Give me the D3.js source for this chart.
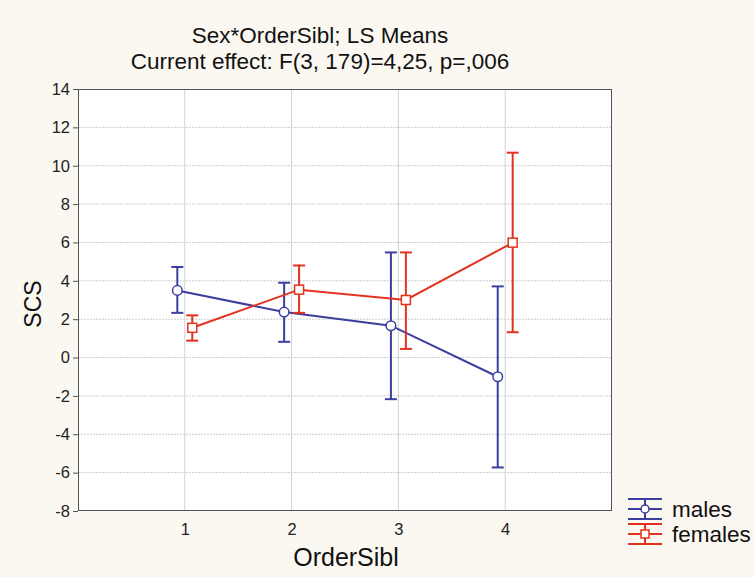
<!DOCTYPE html>
<html><head><meta charset="utf-8">
<script src="https://cdn.jsdelivr.net/npm/d3@7"></script>
<style>
html,body{margin:0;padding:0;background:#fbf8f1;}
svg{display:block;font-family:"Liberation Sans",Arial,sans-serif;}
.tick text{font-size:16.5px;font-family:"Liberation Sans",Arial,sans-serif;fill:#222;}
</style></head>
<body>
<svg id="chart" width="755" height="577"></svg>
<script>
const categories = [1, 2, 3, 4];
const yTicks = [-8, -6, -4, -2, 0, 2, 4, 6, 8, 10, 12, 14];
const seriesNames = ["males", "females"];
const malesMean = [3.5, 2.37, 1.66, -1.0];
const malesLow  = [2.33, 0.82, -2.17, -5.73];
const malesHigh = [4.72, 3.9, 5.48, 3.71];
const femalesMean = [1.55, 3.54, 3.0, 5.99];
const femalesLow  = [0.88, 2.33, 0.45, 1.32];
const femalesHigh = [2.2, 4.8, 5.48, 10.68];
const titleLines = ["Sex*OrderSibl; LS Means", "Current effect: F(3, 179)=4,25, p=,006"];

const colors = {males: "#3b3f9e", females: "#e2321f"};
const svg = d3.select("#chart");
const L = 78, R = 612, T = 89, B = 511;
const x = d3.scaleLinear().domain([0, 5]).range([L, R]);
const y = d3.scaleLinear().domain([-8, 14]).range([B, T]);

svg.append("rect").attr("x", L).attr("y", T).attr("width", R - L).attr("height", B - T).attr("fill", "#fff");

// grid
svg.append("g").selectAll("line").data(yTicks.slice(1, -1)).join("line")
  .attr("x1", L).attr("x2", R).attr("y1", d => y(d)).attr("y2", d => y(d))
  .attr("stroke", "#cccccc").attr("stroke-width", 1).attr("stroke-dasharray", "2,1");
svg.append("g").selectAll("line").data(categories).join("line")
  .attr("y1", T).attr("y2", B).attr("x1", d => x(d)).attr("x2", d => x(d))
  .attr("stroke", "#d2d2d2").attr("stroke-width", 1);

// axes
const fmt = d => String(d);
const yAxis = d3.axisLeft(y).tickValues(yTicks).tickSize(5).tickPadding(3).tickFormat(fmt);
const gy = svg.append("g").attr("transform", `translate(${L},0)`).call(yAxis);
gy.attr("font-size", 16.5);
gy.select(".domain").remove();
gy.selectAll("line").attr("stroke", "#555");

const xAxis = d3.axisBottom(x).tickValues(categories).tickSize(0).tickPadding(12).tickFormat(fmt);
const gx = svg.append("g").attr("transform", `translate(0,${B})`).call(xAxis);
gx.attr("font-size", 16.5);
gx.select(".domain").remove();

svg.append("rect").attr("x", L + 0.5).attr("y", T + 0.5).attr("width", R - L - 1).attr("height", B - T - 1)
  .attr("fill", "none").attr("stroke", "#555").attr("stroke-width", 1);

// series
const series = [
  {name: "males", mean: malesMean, low: malesLow, high: malesHigh, off: -0.07, marker: "circle"},
  {name: "females", mean: femalesMean, low: femalesLow, high: femalesHigh, off: 0.07, marker: "square"}
];
const cap = 6;
series.forEach(s => {
  const c = colors[s.name];
  const pts = categories.map((k, i) => ({x: x(k + s.off), m: y(s.mean[i]), lo: y(s.low[i]), hi: y(s.high[i])}));
  const g = svg.append("g");
  g.append("path").attr("d", d3.line().x(d => d.x).y(d => d.m)(pts))
    .attr("fill", "none").attr("stroke", c).attr("stroke-width", 2);
  g.selectAll(".eb").data(pts).join("line").attr("class", "eb")
    .attr("x1", d => d.x).attr("x2", d => d.x).attr("y1", d => d.lo).attr("y2", d => d.hi)
    .attr("stroke", c).attr("stroke-width", 2);
  g.selectAll(".cl").data(pts).join("line").attr("class", "cl")
    .attr("x1", d => d.x - cap).attr("x2", d => d.x + cap).attr("y1", d => d.lo).attr("y2", d => d.lo)
    .attr("stroke", c).attr("stroke-width", 2);
  g.selectAll(".ch").data(pts).join("line").attr("class", "ch")
    .attr("x1", d => d.x - cap).attr("x2", d => d.x + cap).attr("y1", d => d.hi).attr("y2", d => d.hi)
    .attr("stroke", c).attr("stroke-width", 2);
  if (s.marker === "circle") {
    g.selectAll(".mk").data(pts).join("circle").attr("class", "mk")
      .attr("cx", d => d.x).attr("cy", d => d.m).attr("r", 4.8)
      .attr("fill", "#fff").attr("stroke", c).attr("stroke-width", 1.5);
  } else {
    g.selectAll(".mk").data(pts).join("rect").attr("class", "mk")
      .attr("x", d => d.x - 4.5).attr("y", d => d.m - 4.5).attr("width", 9).attr("height", 9)
      .attr("fill", "#fff").attr("stroke", c).attr("stroke-width", 1.5);
  }
});

// titles
svg.append("g").selectAll("text").data(titleLines).join("text")
  .attr("x", 320).attr("y", (d, i) => 43 + i * 26).attr("text-anchor", "middle")
  .attr("font-size", 22.5).attr("fill", "#111").text(d => d);

svg.append("text").attr("transform", "translate(41,304) rotate(-90)").attr("text-anchor", "middle")
  .attr("font-size", 23).attr("fill", "#111").text("SCS");
svg.append("text").attr("x", 346).attr("y", 566).attr("text-anchor", "middle")
  .attr("font-size", 25).attr("fill", "#111").text("OrderSibl");

// legend
const lg = svg.append("g");
seriesNames.forEach((n, i) => {
  const c = colors[n];
  const cy = 509 + i * 25;
  const g = lg.append("g");
  [cy - 10, cy, cy + 10].forEach(yy => g.append("line").attr("x1", 628).attr("x2", 662).attr("y1", yy).attr("y2", yy)
    .attr("stroke", c).attr("stroke-width", 2));
  g.append("line").attr("x1", 645).attr("x2", 645).attr("y1", cy - 10).attr("y2", cy + 10).attr("stroke", c).attr("stroke-width", 2);
  if (i === 0) g.append("circle").attr("cx", 645).attr("cy", cy).attr("r", 4).attr("fill", "#fff").attr("stroke", c).attr("stroke-width", 1.5);
  else g.append("rect").attr("x", 641).attr("y", cy - 4).attr("width", 8).attr("height", 8).attr("fill", "#fff").attr("stroke", c).attr("stroke-width", 1.5);
  g.append("text").attr("x", 672).attr("y", cy + 8).attr("font-size", 22.5).attr("fill", "#111").text(n);
});
</script>
</body></html>
